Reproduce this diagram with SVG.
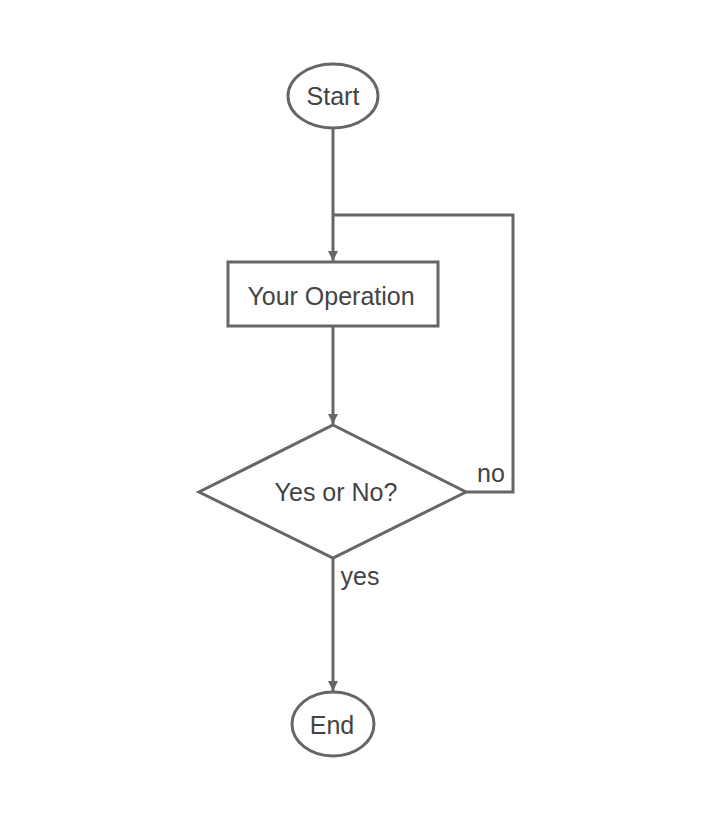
<svg xmlns="http://www.w3.org/2000/svg" width="702" height="830" viewBox="0 0 702 830">
<style>
.shape{fill:#ffffff;stroke:#666666;stroke-width:3}
.edge{fill:none;stroke:#666666;stroke-width:3}
text{font-family:"Liberation Sans",Arial,sans-serif;font-size:25px;fill:#444444}
.c{text-anchor:middle}
</style>
<defs>
<marker id="arr" viewBox="0 0 10 10" refX="10" refY="5" markerWidth="10" markerHeight="10" markerUnits="userSpaceOnUse" orient="auto">
<path d="M0,0 L10,5 L0,10 Z" fill="#666666"/>
</marker>
</defs>
<rect width="702" height="830" fill="#ffffff"/>
<g id="connectors">
<path class="edge" d="M333,128 V261" marker-end="url(#arr)"/>
<path class="edge" d="M333,326 V424" marker-end="url(#arr)"/>
<path class="edge" d="M466,492 H513 V215 H333"/>
<path class="edge" d="M333,558 V691" marker-end="url(#arr)"/>
<text x="491" y="482" class="c">no</text>
<text x="360" y="585" class="c">yes</text>
</g>
<g id="start">
<ellipse class="shape" cx="333" cy="96" rx="45" ry="32"/>
<text x="333" y="105" class="c">Start</text>
</g>
<g id="operation">
<rect class="shape" x="228" y="262" width="210" height="64"/>
<text x="331" y="305" class="c">Your Operation</text>
</g>
<g id="decision">
<polygon class="shape" points="333,425 466,492 333,558 199,492"/>
<text x="336" y="501" class="c">Yes or No?</text>
</g>
<g id="end">
<ellipse class="shape" cx="333" cy="724" rx="41" ry="32"/>
<text x="332" y="734" class="c">End</text>
</g>
</svg>
